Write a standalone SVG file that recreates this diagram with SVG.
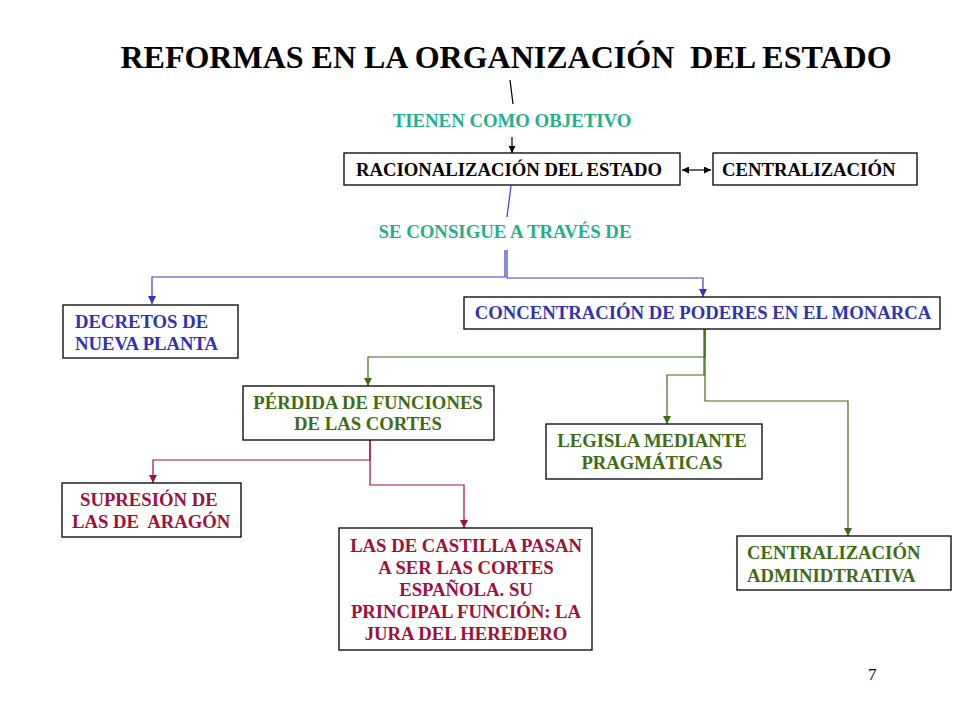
<svg xmlns="http://www.w3.org/2000/svg" width="960" height="720" viewBox="0 0 960 720">
<defs>
<style>
text{font-family:"Liberation Serif","Times New Roman",serif;font-weight:bold;}
.box{fill:#fff;stroke:#000;stroke-width:1.3;}
.t{font-size:18.7px;}
.bl{fill:#3232b4;}
.gr{fill:#3f6b14;}
.rd{fill:#a0103a;}
.tl{fill:#1fb08c;font-size:18.8px;}
.blk{fill:#000;}
.c{fill:none;stroke-width:1.2;}
</style>
<marker id="ak" viewBox="0 0 10 10" refX="10" refY="5" markerWidth="7" markerHeight="7" orient="auto-start-reverse" markerUnits="userSpaceOnUse"><path d="M0,0L10,5L0,10z" fill="#000"/></marker>
<marker id="ab" viewBox="0 0 10 10" refX="10" refY="5" markerWidth="8" markerHeight="8" orient="auto" markerUnits="userSpaceOnUse"><path d="M0,0L10,5L0,10z" fill="#3232c8"/></marker>
<marker id="ag" viewBox="0 0 10 10" refX="10" refY="5" markerWidth="8" markerHeight="8" orient="auto" markerUnits="userSpaceOnUse"><path d="M0,0L10,5L0,10z" fill="#3f6b14"/></marker>
<marker id="ar" viewBox="0 0 10 10" refX="10" refY="5" markerWidth="8" markerHeight="8" orient="auto" markerUnits="userSpaceOnUse"><path d="M0,0L10,5L0,10z" fill="#a0103a"/></marker>
</defs>
<rect width="960" height="720" fill="#fff"/>
<text x="506" y="68" text-anchor="middle" font-size="32" fill="#000" xml:space="preserve">REFORMAS EN LA ORGANIZACIÓN  DEL ESTADO</text>
<text x="512" y="127" text-anchor="middle" class="tl">TIENEN COMO OBJETIVO</text>
<text x="505" y="238" text-anchor="middle" class="tl">SE CONSIGUE A TRAVÉS DE</text>
<text x="868" y="680" font-size="17" style="font-weight:normal" fill="#000">7</text>

<g id="connectors">
<line x1="510" y1="80" x2="513" y2="104" stroke="#000" class="c"/>
<line x1="512" y1="137" x2="512" y2="153" stroke="#000" class="c" marker-end="url(#ak)"/>
<line x1="682" y1="170" x2="711" y2="170" stroke="#000" class="c" marker-start="url(#ak)" marker-end="url(#ak)"/>
<line x1="511" y1="186" x2="507" y2="217" stroke="#3c3cc8" class="c"/>
<path d="M505,250V277H152V304" stroke="#3c3cc8" class="c" marker-end="url(#ab)"/>
<path d="M507,250V278H703V297" stroke="#3c3cc8" class="c" marker-end="url(#ab)"/>
<path d="M705,329V357H368V386" stroke="#3f6b14" class="c" marker-end="url(#ag)"/>
<path d="M704,329V375H667V424" stroke="#3f6b14" class="c" marker-end="url(#ag)"/>
<path d="M705,329V401H848V536" stroke="#3f6b14" class="c" marker-end="url(#ag)"/>
<path d="M370,440V460H153V483" stroke="#a0103a" class="c" marker-end="url(#ar)"/>
<path d="M370,440V485H464V528" stroke="#a0103a" class="c" marker-end="url(#ar)"/>
</g>

<g id="n-racionalizacion">
<rect x="344" y="153" width="336" height="32" class="box"/>
<text x="509" y="176" text-anchor="middle" class="t blk">RACIONALIZACIÓN DEL ESTADO</text>
</g>
<g id="n-centralizacion">
<rect x="713" y="153" width="204" height="32" class="box"/>
<text x="722" y="176" class="t blk">CENTRALIZACIÓN</text>
</g>
<g id="n-decretos">
<rect x="63" y="305" width="175" height="53" class="box"/>
<text x="75" y="328" class="t bl">DECRETOS DE</text>
<text x="75" y="350" class="t bl">NUEVA PLANTA</text>
</g>
<g id="n-concentracion">
<rect x="464" y="297" width="476" height="32" class="box"/>
<text x="703" y="319" text-anchor="middle" class="t bl">CONCENTRACIÓN DE PODERES EN EL MONARCA</text>
</g>
<g id="n-perdida">
<rect x="243" y="386" width="251" height="54" class="box"/>
<text x="368" y="409" text-anchor="middle" class="t gr">PÉRDIDA DE FUNCIONES</text>
<text x="368" y="430" text-anchor="middle" class="t gr">DE LAS CORTES</text>
</g>
<g id="n-legisla">
<rect x="546" y="424" width="216" height="55" class="box"/>
<text x="652" y="447" text-anchor="middle" class="t gr">LEGISLA MEDIANTE</text>
<text x="652" y="469" text-anchor="middle" class="t gr">PRAGMÁTICAS</text>
</g>
<g id="n-centralizacion-admin">
<rect x="737" y="536" width="214" height="54" class="box"/>
<text x="747" y="559" class="t gr">CENTRALIZACIÓN</text>
<text x="747" y="582" class="t gr">ADMINIDTRATIVA</text>
</g>
<g id="n-supresion">
<rect x="62" y="483" width="179" height="54" class="box"/>
<text x="80" y="506" class="t rd">SUPRESIÓN DE</text>
<text x="72" y="528" class="t rd" xml:space="preserve">LAS DE  ARAGÓN</text>
</g>
<g id="n-castilla">
<rect x="339" y="528" width="253" height="122" class="box"/>
<text x="466" y="552" text-anchor="middle" class="t rd">LAS DE CASTILLA PASAN</text>
<text x="466" y="574" text-anchor="middle" class="t rd">A SER LAS CORTES</text>
<text x="466" y="596" text-anchor="middle" class="t rd">ESPAÑOLA. SU</text>
<text x="466" y="618" text-anchor="middle" class="t rd">PRINCIPAL FUNCIÓN: LA</text>
<text x="466" y="640" text-anchor="middle" class="t rd">JURA DEL HEREDERO</text>
</g>
</svg>
